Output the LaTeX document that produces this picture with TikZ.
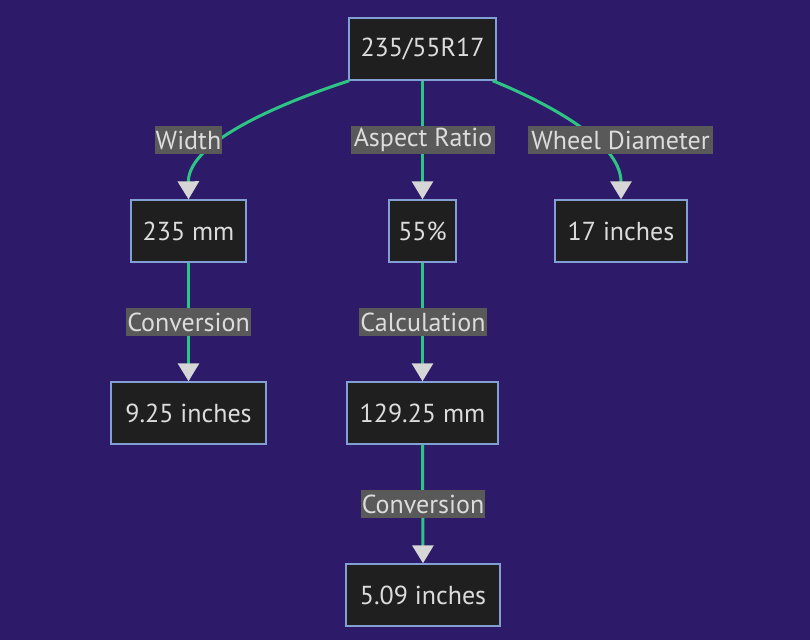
\documentclass[tikz,border=0pt]{standalone}
\usepackage{fontspec}
\setmainfont{PT Sans}
\usetikzlibrary{arrows.meta}
\definecolor{bg}{RGB}{45,27,105}
\definecolor{nodefill}{RGB}{31,31,31}
\definecolor{nodeborder}{RGB}{130,160,212}
\definecolor{edgegreen}{RGB}{46,196,132}
\definecolor{lblfill}{RGB}{89,89,89}
\definecolor{txt}{RGB}{220,220,220}
\definecolor{tipgray}{RGB}{214,214,214}
\tikzset{
  box/.style={draw=nodeborder, line width=1.4pt, fill=nodefill, text=txt,
    minimum height=62pt, inner sep=0pt, font=\fontsize{26}{30}\selectfont},
  lbl/.style={fill=lblfill, text=txt, inner xsep=0pt, inner ysep=0pt,
    minimum height=28pt, font=\fontsize{26}{30}\selectfont},
  edge/.style={draw=edgegreen, line width=3pt,
    -{Triangle[width=21pt,length=18pt,color=tipgray]}},
}
\begin{document}
\begin{tikzpicture}[x=1pt,y=-1pt]
\useasboundingbox[fill=bg] (0,0) rectangle (810,640);
% nodes
\node[box, minimum width=147pt] (root) at (422.5,49) {235/55R17};
\node[box, minimum width=115pt] (mm235) at (188.5,231) {235 mm};
\node[box, minimum width=67pt] (pct) at (422.5,231) {55\%};
\node[box, minimum width=132pt] (wheel) at (621,231) {17 inches};
\node[box, minimum width=155pt] (in925) at (188.5,413) {9.25 inches};
\node[box, minimum width=151pt] (mm129) at (422.5,413) {129.25 mm};
\node[box, minimum width=154pt] (in509) at (423,595) {5.09 inches};
% edge anchors on the root border
\coordinate (rootL) at ([xshift=1pt]root.south west);
\coordinate (rootR) at ([xshift=-4pt]root.south east);
% edges
\draw[edge] (rootL) .. controls (290,100) and (188,140) .. (mm235.north);
\draw[edge] (root.south) -- (pct.north);
\draw[edge] (rootR) .. controls (540,100) and (621,140) .. (wheel.north);
\draw[edge] (mm235.south) -- (in925.north);
\draw[edge] (pct.south) -- (mm129.north);
\draw[edge] (mm129.south) -- (in509.north);
% edge labels
\node[lbl, minimum width=67pt] (lw) at (188.5,140) {Width};
\node[lbl, minimum width=144pt] (la) at (423,140) {Aspect Ratio};
\node[lbl, minimum width=185pt] (ld) at (620.5,140) {Wheel Diameter};
\node[lbl, minimum width=125pt] (lc1) at (188.5,322) {Conversion};
\node[lbl, minimum width=128pt] (lc2) at (423,322) {Calculation};
\node[lbl, minimum width=124pt] (lc3) at (423,504) {Conversion};
\end{tikzpicture}
\end{document}
